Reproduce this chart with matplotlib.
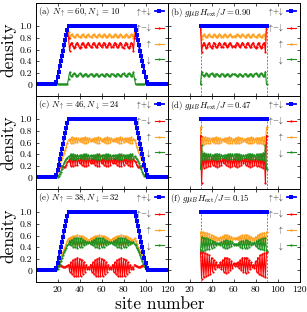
import numpy as np
import matplotlib
matplotlib.use('Agg')
import matplotlib.pyplot as plt

plt.rcParams['font.family'] = 'serif'
plt.rcParams['font.serif'] = ['cmr10']
plt.rcParams['mathtext.fontset'] = 'cm'
plt.rcParams['axes.unicode_minus'] = False

# ---------------- data ----------------
sites_left = np.arange(1, 121)
sites_right = np.arange(30, 91)

up_a = [0]*18 + [0.04,0.13,0.22,0.31,0.40,0.49,0.58,0.67,0.76,0.85,0.94,
        0.90,0.79,
        0.85,0.86,0.83,0.81,0.82,0.85,0.86,0.84,0.81,0.82,0.85,0.86,0.84,0.82,0.82,0.85,0.86,0.84,0.82,0.82,0.85,0.86,0.84,0.82,0.82,0.85,0.86,0.84,0.82,
        0.84,0.86,0.85,0.82,0.82,0.84,0.86,0.85,0.82,0.82,0.84,0.86,0.85,0.82,0.82,0.84,0.86,0.85,0.82,0.81,0.84,0.86,0.85,0.82,0.81,0.83,0.86,0.85,
        0.79,0.90,
        0.94,0.85,0.76,0.67,0.58,0.49,0.40,0.31,0.22,0.13,0.04] + [0]*19
down_a = [0]*18 + [0]*11 + [0.10,0.21,
        0.15,0.14,0.17,0.19,0.18,0.15,0.14,0.16,0.19,0.18,0.15,0.14,0.16,0.18,0.18,0.15,0.14,0.16,0.18,0.18,0.15,0.14,0.16,0.18,0.18,0.15,0.14,0.16,0.18,
        0.16,0.14,0.15,0.18,0.18,0.16,0.14,0.15,0.18,0.18,0.16,0.14,0.15,0.18,0.18,0.16,0.14,0.15,0.18,0.19,0.16,0.14,0.15,0.18,0.19,0.17,0.14,0.15,
        0.21,0.10] + [0]*11 + [0]*19

up_b = [1.00,0.78,0.84,0.86,0.84,0.81,0.82,0.85,0.86,0.83,0.81,0.83,0.86,0.85,0.82,0.82,0.84,0.86,0.85,0.82,
        0.82,0.85,0.86,0.84,0.82,0.83,0.85,0.86,0.84,0.82,0.83,0.82,0.84,0.86,0.85,0.83,0.82,0.84,0.86,0.85,
        0.82,0.82,0.85,0.86,0.84,0.82,0.82,0.85,0.86,0.83,0.81,0.82,0.85,0.86,0.83,0.81,0.82,0.85,0.86,0.78,1.00]
down_b = [0.00,0.22,0.16,0.14,0.16,0.19,0.18,0.15,0.14,0.17,0.19,0.17,0.14,0.15,0.18,0.18,0.16,0.14,0.15,0.18,
          0.18,0.15,0.14,0.16,0.18,0.17,0.15,0.14,0.16,0.18,0.17,0.18,0.16,0.14,0.15,0.17,0.18,0.16,0.14,0.15,
          0.18,0.18,0.15,0.14,0.16,0.18,0.18,0.15,0.14,0.17,0.19,0.18,0.15,0.14,0.17,0.19,0.18,0.15,0.14,0.22,0.00]

up_c = [0]*18 + [0.04,0.12,0.19,0.25,0.30,0.34,0.38,0.42,0.47,0.53,0.60,
        0.64,0.66,0.60,0.69,0.60,0.68,0.61,0.68,0.61,0.67,0.62,0.67,0.61,0.68,0.60,0.69,0.60,0.68,0.61,0.67,
        0.62,0.66,0.62,0.67,0.61,0.68,0.60,0.69,0.60,0.68,0.62,0.66,0.61,0.68,0.60,0.69,0.60,0.68,0.61,0.67,
        0.62,0.66,0.62,0.67,0.61,0.68,0.60,0.69,0.60,0.68,0.61,0.67,0.62,0.67,0.61,0.68,0.60,0.69,0.60,0.66,0.64,
        0.60,0.53,0.47,0.42,0.38,0.34,0.30,0.25,0.19,0.12,0.04] + [0]*19
down_c = [0]*18 + [0.00,0.01,0.03,0.06,0.10,0.15,0.20,0.25,0.29,0.32,0.34,
          0.36,0.34,0.40,0.31,0.40,0.32,0.39,0.32,0.39,0.33,0.38,0.33,0.39,0.32,0.40,0.31,0.40,0.32,0.39,0.33,
          0.38,0.34,0.38,0.33,0.39,0.32,0.40,0.31,0.40,0.32,0.38,0.34,0.39,0.32,0.40,0.31,0.40,0.32,0.39,0.33,
          0.38,0.34,0.38,0.33,0.39,0.32,0.40,0.31,0.40,0.32,0.39,0.33,0.38,0.33,0.39,0.32,0.40,0.31,0.40,0.34,0.36,
          0.34,0.32,0.29,0.25,0.20,0.15,0.10,0.06,0.03,0.01,0.00] + [0]*19

up_d = [0.86,0.45,0.70,0.58,0.69,0.59,0.68,0.60,0.68,0.60,0.67,0.61,0.68,0.60,0.69,0.59,0.68,0.60,0.67,0.61,
        0.66,0.62,0.67,0.61,0.68,0.60,0.69,0.59,0.68,0.60,0.66,0.60,0.68,0.59,0.69,0.60,0.68,0.61,0.67,0.62,
        0.66,0.61,0.67,0.60,0.68,0.59,0.69,0.60,0.68,0.61,0.67,0.60,0.68,0.60,0.68,0.59,0.69,0.58,0.70,0.45,0.86]
down_d = [0.14,0.55,0.30,0.42,0.31,0.41,0.32,0.40,0.32,0.40,0.33,0.39,0.32,0.40,0.31,0.41,0.32,0.40,0.33,0.39,
          0.34,0.38,0.33,0.39,0.32,0.40,0.31,0.41,0.32,0.40,0.34,0.40,0.32,0.41,0.31,0.40,0.32,0.39,0.33,0.38,
          0.34,0.39,0.33,0.40,0.32,0.41,0.31,0.40,0.32,0.39,0.33,0.40,0.32,0.40,0.32,0.41,0.31,0.42,0.30,0.55,0.14]

up_e = [0]*18 + [0.04,0.10,0.15,0.20,0.24,0.28,0.32,0.36,0.41,0.46,0.51,
        0.55,0.49,0.57,0.47,0.59,0.45,0.60,0.45,0.61,0.45,0.60,0.45,0.59,0.47,0.57,0.49,0.55,0.51,0.53,0.51,
        0.55,0.49,0.57,0.47,0.59,0.45,0.60,0.45,0.61,0.45,0.60,0.45,0.59,0.47,0.57,0.49,0.55,0.51,0.53,0.51,
        0.55,0.49,0.57,0.47,0.59,0.45,0.60,0.45,0.61,0.45,0.60,0.45,0.59,0.47,0.57,0.49,0.55,0.51,0.53,0.51,0.55,
        0.51,0.46,0.41,0.36,0.32,0.28,0.24,0.20,0.15,0.10,0.04] + [0]*19
down_e = [0]*18 + [0.00,0.03,0.07,0.11,0.16,0.21,0.26,0.31,0.35,0.39,0.43,
          0.45,0.51,0.43,0.53,0.41,0.55,0.40,0.55,0.39,0.55,0.40,0.55,0.41,0.53,0.43,0.51,0.45,0.49,0.47,0.49,
          0.45,0.51,0.43,0.53,0.41,0.55,0.40,0.55,0.39,0.55,0.40,0.55,0.41,0.53,0.43,0.51,0.45,0.49,0.47,0.49,
          0.45,0.51,0.43,0.53,0.41,0.55,0.40,0.55,0.39,0.55,0.40,0.55,0.41,0.53,0.43,0.51,0.45,0.49,0.47,0.49,0.45,
          0.43,0.39,0.35,0.31,0.26,0.21,0.16,0.11,0.07,0.03,0.00] + [0]*19

up_f = [0.66,0.43,0.66,0.44,0.65,0.45,0.64,0.46,0.63,0.47,0.61,0.49,0.59,0.51,0.57,0.53,0.55,0.53,0.57,0.51,
        0.59,0.49,0.61,0.48,0.61,0.49,0.60,0.50,0.58,0.52,0.56,0.54,0.56,0.54,0.57,0.52,0.59,0.50,0.61,0.49,
        0.61,0.48,0.61,0.49,0.59,0.51,0.57,0.53,0.55,0.52,0.58,0.49,0.61,0.47,0.63,0.46,0.64,0.45,0.65,0.44,0.66]
down_f = [0.34,0.57,0.34,0.56,0.35,0.55,0.36,0.54,0.37,0.53,0.39,0.51,0.41,0.49,0.43,0.47,0.45,0.47,0.43,0.49,
          0.41,0.51,0.39,0.52,0.39,0.51,0.40,0.50,0.42,0.48,0.44,0.46,0.44,0.46,0.43,0.48,0.41,0.50,0.39,0.51,
          0.39,0.52,0.39,0.51,0.41,0.49,0.43,0.47,0.45,0.48,0.42,0.51,0.39,0.53,0.37,0.54,0.36,0.55,0.35,0.56,0.34]

left_titles = [r'(a) $N_\uparrow = 60, N_\downarrow = 10$',
               r'(c) $N_\uparrow = 46, N_\downarrow = 24$',
               r'(e) $N_\uparrow = 38, N_\downarrow = 32$']
right_titles = [r'(b) $g\mu_B H_{\rm ext}/J = 0.90$',
                r'(d) $g\mu_B H_{\rm ext}/J = 0.47$',
                r'(f) $g\mu_B H_{\rm ext}/J = 0.15$']
legend_labels = [r'$\uparrow\!\!+\!\!\downarrow$', r'$\uparrow\!\!-\!\!\downarrow$',
                 r'$\uparrow$', r'$\downarrow$']
x_ticks = [20, 40, 60, 80, 100, 120]
y_ticks = [0, 0.2, 0.4, 0.6, 0.8, 1.0]
y_tick_labels = ['0', '0.2', '0.4', '0.6', '0.8', '1.0']

left_data = [(up_a, down_a), (up_c, down_c), (up_e, down_e)]
right_data = [(up_b, down_b), (up_d, down_d), (up_f, down_f)]

C_BLUE = '#0000ff'
C_RED = '#ff0000'
C_ORANGE = '#ffa01e'
C_GREEN = '#1f8f1f'

W, H = 307, 312
fig = plt.figure(figsize=(W/100, H/100), dpi=100)

ax_l = 35.5 / W
ax_w = 132.0 / W
row_tops = [3, 96, 189]
row_h = 93.0


def draw(ax, x, up, down, right):
    up = np.asarray(up, float)
    down = np.asarray(down, float)
    tot = up + down
    diff = up - down
    kw = dict(lw=0.8, marker='o', ms=1.6, mew=0)
    if right:
        for xv in (x[0], x[-1]):
            ax.plot([xv, xv], [-0.2, 1.0], ls=(0, (3, 2)), color='#555555', lw=0.5, zorder=1)
    l3, = ax.plot(x, up, color=C_ORANGE, **kw)
    l2, = ax.plot(x, diff, color=C_RED, **kw)
    l4, = ax.plot(x, down, color=C_GREEN, **kw)
    l1, = ax.plot(x, tot, color=C_BLUE, lw=1.3, marker='s', ms=2.2, mew=0)
    ax.set_xlim(0, 120)
    ax.set_ylim(-0.2, 1.4)
    ax.set_xticks(x_ticks)
    ax.set_yticks(y_ticks)
    ax.tick_params(direction='in', top=True, right=True, length=2.5, width=0.5,
                   labelsize=7, pad=2.5)
    for s in ax.spines.values():
        s.set_linewidth(0.7)
    ax.legend([l1, l2, l3, l4], legend_labels, loc='upper right', fontsize=5.5,
              markerfirst=False, frameon=False, handlelength=1.3, labelspacing=0.55,
              borderaxespad=0.1, borderpad=0.3, handletextpad=0.3, numpoints=1)


for r in range(3):
    b = 1 - (row_tops[r] + row_h) / H
    axL = fig.add_axes([ax_l, b, ax_w, row_h / H])
    axR = fig.add_axes([ax_l + ax_w, b, ax_w, row_h / H])
    draw(axL, sites_left, *left_data[r], right=False)
    draw(axR, sites_right, *right_data[r], right=True)
    axL.set_yticklabels(y_tick_labels)
    axR.set_yticklabels([])
    axL.set_ylabel('density', fontsize=12.5, labelpad=2)
    axL.text(0.02, 0.97, left_titles[r], transform=axL.transAxes, va='top',
             ha='left', fontsize=6.3)
    axR.text(0.02, 0.97, right_titles[r], transform=axR.transAxes, va='top',
             ha='left', fontsize=6.3)
    if r < 2:
        axL.set_xticklabels([])
        axR.set_xticklabels([])

fig.text(0.52, 0.0, 'site number', ha='center', va='bottom', fontsize=12.5)
fig.savefig('out.png', dpi=100)
